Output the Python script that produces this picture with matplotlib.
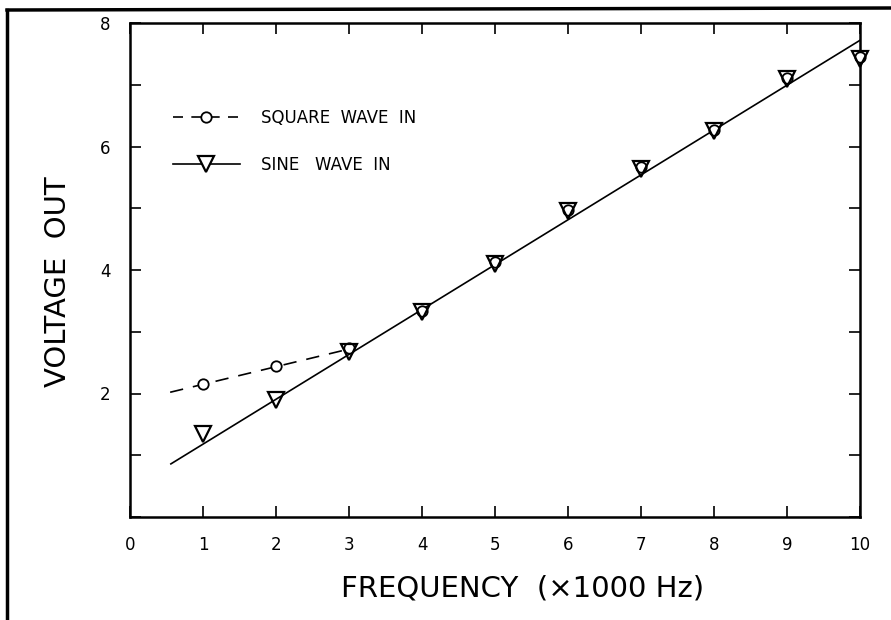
#!/usr/bin/env python3
"""Voltage out vs frequency for square and sine wave input."""

from __future__ import annotations

import matplotlib

matplotlib.use("Agg")
import matplotlib.pyplot as plt  # noqa: E402
from matplotlib.lines import Line2D  # noqa: E402


# measured points (frequency in kHz)
freq = [1, 2, 3, 4, 5, 6, 7, 8, 9, 10]
square_v = [2.15, 2.45, 2.74, 3.34, 4.13, 4.97, 5.66, 6.27, 7.11, 7.45]
sine_v = [1.35, 1.89, 2.67, 3.32, 4.10, 4.95, 5.64, 6.25, 7.09, 7.42]

# hand-drawn guide lines
square_line_x = [0.55, 3.0]
square_line_y = [2.02, 2.72]
sine_line_x = [0.56, 10.0]
sine_line_y = [0.86, 7.72]

x_ticks = list(range(0, 11))
y_ticks = list(range(0, 9))
y_labels = ["" if v % 2 or v == 0 else str(v) for v in y_ticks]

series_labels = ["SQUARE  WAVE  IN", "SINE   WAVE  IN"]
x_title = "FREQUENCY  (×1000 Hz)"
y_title = "VOLTAGE  OUT"


def main() -> None:
    plt.rcParams["font.family"] = ["DejaVu Sans"]
    fig = plt.figure(figsize=(8.91, 6.2), dpi=100)
    ax = fig.add_axes([130 / 891, 1 - 517 / 620, 730 / 891, 494 / 620])

    ink = "black"
    ax.plot(square_line_x, square_line_y, color=ink, lw=1.2, dashes=(8, 6))
    ax.plot(sine_line_x, sine_line_y, color=ink, lw=1.2)
    ax.plot(freq, square_v, ls="none", marker="o", ms=7.5, mfc="white",
            mec=ink, mew=1.3, clip_on=False, zorder=3)
    ax.plot(freq, sine_v, ls="none", marker="v", ms=11, mfc="none",
            mec=ink, mew=1.6, clip_on=False, zorder=4)

    ax.set_xlim(0, 10)
    ax.set_ylim(0, 8)
    ax.set_xticks(x_ticks)
    ax.set_yticks(y_ticks)
    ax.set_yticklabels(y_labels)
    ax.tick_params(direction="in", length=8, width=1.2, labelsize=12,
                   top=True, right=True, pad=14)
    for s in ax.spines.values():
        s.set_linewidth(1.8)

    handles = [
        Line2D([], [], color=ink, lw=1.2, dashes=(6, 5), marker="o", ms=7.5,
               mfc="white", mec=ink, mew=1.3),
        Line2D([], [], color=ink, lw=1.2, marker="v", ms=11, mfc="white",
               mec=ink, mew=1.6),
    ]
    ax.legend(handles, series_labels, loc="upper left",
              bbox_to_anchor=(0.059, 0.826), frameon=False, fontsize=12,
              handlelength=4.0, handletextpad=1.3, labelspacing=1.75,
              borderpad=0, borderaxespad=0, numpoints=1)

    fig.text(523 / 891, 1 - 588 / 620, x_title, ha="center", va="center",
             fontsize=21)
    fig.text(58 / 891, 1 - 282 / 620, y_title, ha="center", va="center",
             rotation=90, fontsize=21)

    # page border from the scanned sheet
    fig.add_artist(Line2D([7 / 891, 1.0], [1 - 10 / 620, 1 - 8 / 620],
                          transform=fig.transFigure, color=ink, lw=2.5))
    fig.add_artist(Line2D([7 / 891, 7 / 891], [0.0, 1 - 10 / 620],
                          transform=fig.transFigure, color=ink, lw=2.5))

    fig.savefig("out.png", dpi=100)
    plt.close(fig)


if __name__ == "__main__":
    main()
